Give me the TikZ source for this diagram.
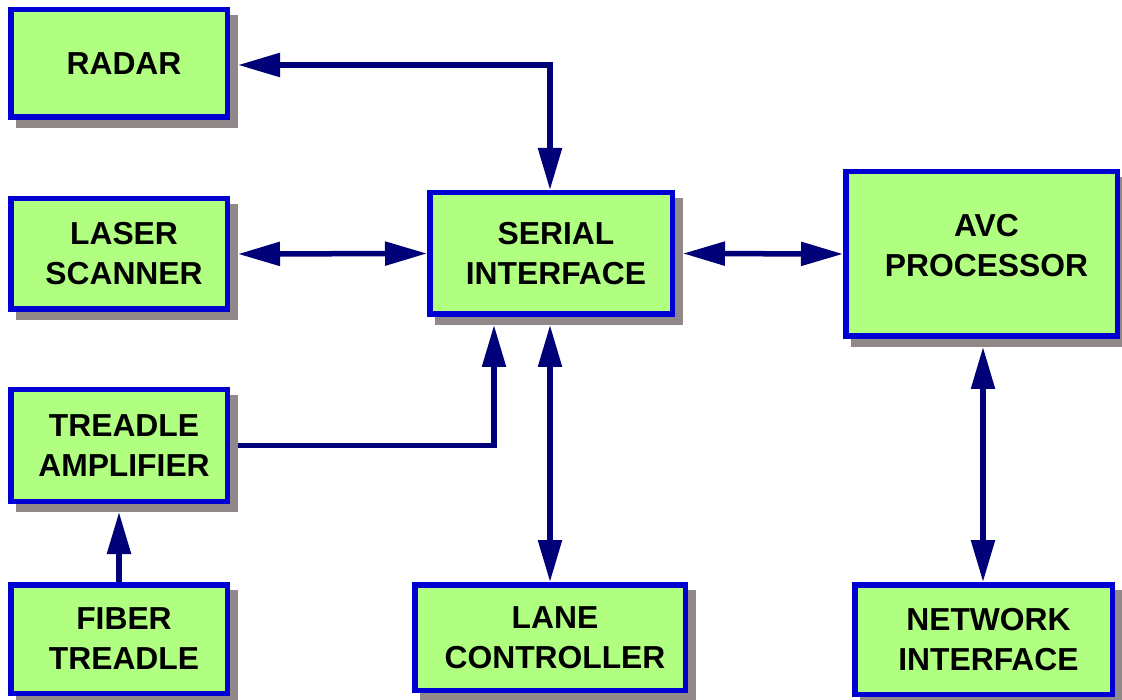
\documentclass[tikz,border=0pt]{standalone}
\usepackage{fontspec}
\setmainfont{Liberation Sans}
\usetikzlibrary{arrows.meta,calc,backgrounds}
\definecolor{boxgreen}{RGB}{176,255,128}
\definecolor{boxblue}{RGB}{0,0,210}
\definecolor{shadowgray}{RGB}{145,137,137}
\definecolor{navy}{RGB}{0,0,120}
\tikzset{
  block/.style={draw=boxblue, fill=boxgreen, line width=5.5pt, inner sep=0pt},
  txt/.style={align=center, inner sep=0pt, xshift=5pt, font=\fontsize{31.8}{40}\selectfont\bfseries},
  conn/.style={draw=navy, line width=5.5pt},
  tip/.style={-{Triangle[length=42pt,width=23pt]}},
  tips/.style={{Triangle[length=42pt,width=23pt]}-{Triangle[length=42pt,width=23pt]}},
  shade/.style={fill=shadowgray}
}
\begin{document}
\begin{tikzpicture}[x=1pt,y=-1pt]
\useasboundingbox (0,0) rectangle (1122,700);
% boxes (outer sizes = minimum size + line width)
\node[block, minimum width=216.5pt, minimum height=107.5pt,
  label={[txt]center:RADAR}] (radar) at (119,63.5) {};
\node[block, minimum width=216.5pt, minimum height=110.5pt,
  label={[txt]center:LASER\\SCANNER}] (laser) at (119,254) {};
\node[block, minimum width=216.5pt, minimum height=111.5pt,
  label={[txt]center:TREADLE\\AMPLIFIER}] (amp) at (119,445.5) {};
\node[block, minimum width=216.5pt, minimum height=108.5pt,
  label={[txt]center:FIBER\\TREADLE}] (fiber) at (119,639) {};
\node[block, minimum width=242.5pt, minimum height=121.5pt,
  label={[txt]center:SERIAL\\INTERFACE}] (serial) at (551,253.5) {};
\node[block, minimum width=271.5pt, minimum height=164.5pt,
  label={[txt, yshift=8pt]center:AVC\\PROCESSOR}] (avc) at (981.5,254) {};
\node[block, minimum width=270.5pt, minimum height=105.5pt,
  label={[txt]center:LANE\\CONTROLLER}] (lane) at (550,637.5) {};
\node[block, minimum width=257.5pt, minimum height=109.5pt,
  label={[txt]center:NETWORK\\INTERFACE}] (network) at (983.5,639.5) {};
% shadows
\begin{scope}[on background layer]
\foreach \n in {radar,laser,amp,fiber,serial,avc,lane,network}{
  \fill[shade] ($(\n.south west)+(8pt,-8pt)$) rectangle ($(\n.north east)+(8pt,-8pt)$);
}
\end{scope}
% connector end points at shadow edges
\coordinate (radarS) at ($(radar.east)+(8pt,-1.5pt)$);
\coordinate (laserS) at ($(laser.east)+(8pt,0)$);
\coordinate (ampS) at ($(amp.east)+(8pt,0)$);
\coordinate (ampB) at ($(amp.south)+(0,-8pt)$);
\coordinate (serialE) at ($(serial.east)+(8pt,0)$);
\coordinate (serialB1) at ($(serial.south)+(-57pt,-8pt)$);
\coordinate (serialB2) at ($(serial.south)+(-1pt,-8pt)$);
\coordinate (serialT) at ($(serial.north)+(-1pt,0)$);
\coordinate (avcB) at ($(avc.south)+(1.5pt,-8pt)$);
% connectors
\draw[conn, tips] (radarS) -| (serialT);
\draw[conn, tips] (laserS) -- (serial.west);
\draw[conn, tips] (serialE) -- (avc.west);
\draw[conn, tip] (ampS) -| (serialB1);
\draw[conn, tip] (fiber.north) -- (ampB);
\draw[conn, tips] (serialB2) -- (serialB2 |- lane.north);
\draw[conn, tips] (avcB) -- (avcB |- network.north);
\end{tikzpicture}
\end{document}
